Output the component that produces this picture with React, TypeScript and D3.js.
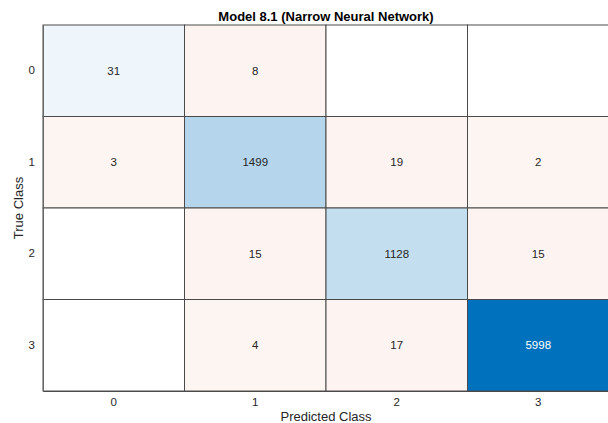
import React, { useEffect, useRef } from 'react';
import * as d3 from 'd3';

const CLASSES = ['0', '1', '2', '3'];

// rows = true class, columns = predicted class
const MATRIX: number[][] = [
  [31, 8, 0, 0],
  [3, 1499, 19, 2],
  [0, 15, 1128, 15],
  [0, 4, 17, 5998],
];

const TITLE = 'Model 8.1 (Narrow Neural Network)';
const X_LABEL = 'Predicted Class';
const Y_LABEL = 'True Class';

const DIAG_COLOR = '#0072bd';
const OFF_COLOR = '#d95319';

const W = 608;
const H = 423;

const App: React.FC = () => {
  const svgRef = useRef<SVGSVGElement>(null);

  useEffect(() => {
    document.body.style.margin = '0';
    if (!svgRef.current) return;
    const svg = d3.select(svgRef.current);
    svg.selectAll('*').remove();

    const margin = { top: 25, right: -1, bottom: 32, left: 43 };
    const x = d3.scaleBand().domain(CLASSES).range([margin.left, W - margin.right]);
    const y = d3.scaleBand().domain(CLASSES).range([margin.top, H - margin.bottom]);

    const maxV = d3.max(MATRIX.flat()) ?? 1;
    const alpha = (v: number) => 0.06 + 0.94 * (v / maxV);
    const fill = (v: number, diag: boolean) => {
      if (v === 0) return '#ffffff';
      return d3.interpolateRgb('#ffffff', diag ? DIAG_COLOR : OFF_COLOR)(alpha(v));
    };

    const font = 'Liberation Sans, Arial, Helvetica, sans-serif';
    const g = svg.append('g');

    MATRIX.forEach((row, i) => {
      row.forEach((v, j) => {
        g.append('rect')
          .attr('x', x(CLASSES[j])!)
          .attr('y', y(CLASSES[i])!)
          .attr('width', x.bandwidth())
          .attr('height', y.bandwidth())
          .attr('fill', fill(v, i === j))
          .attr('stroke', '#4a4a4a')
          .attr('stroke-width', 1);
        if (v !== 0) {
          g.append('text')
            .attr('x', x(CLASSES[j])! + x.bandwidth() / 2)
            .attr('y', y(CLASSES[i])! + y.bandwidth() / 2)
            .attr('dy', '0.35em')
            .attr('text-anchor', 'middle')
            .attr('font-family', font)
            .attr('font-size', '11.5px')
            .attr('fill', alpha(v) > 0.5 ? '#ffffff' : '#262626')
            .text(String(v));
        }
      });
    });

    const xAxis = svg
      .append('g')
      .attr('transform', `translate(0,${H - margin.bottom})`)
      .call(d3.axisBottom(x).tickSize(0).tickPadding(7));
    xAxis.select('.domain').attr('stroke', '#4a4a4a');
    xAxis.selectAll('text').attr('font-family', font).attr('font-size', '11.5px').attr('fill', '#262626');

    const yAxis = svg
      .append('g')
      .attr('transform', `translate(${margin.left},0)`)
      .call(d3.axisLeft(y).tickSize(0).tickPadding(8));
    yAxis.select('.domain').attr('stroke', '#666');
    yAxis.selectAll('text').attr('font-family', font).attr('font-size', '11.5px').attr('fill', '#262626');

    const cx = (margin.left + W - margin.right) / 2;

    svg
      .append('text')
      .attr('x', cx)
      .attr('y', 21)
      .attr('text-anchor', 'middle')
      .attr('font-family', font)
      .attr('font-weight', 'bold')
      .attr('font-size', '13px')
      .attr('fill', '#000')
      .text(TITLE);

    svg
      .append('text')
      .attr('x', cx)
      .attr('y', 421)
      .attr('text-anchor', 'middle')
      .attr('font-family', font)
      .attr('font-size', '13px')
      .attr('fill', '#262626')
      .text(X_LABEL);

    svg
      .append('text')
      .attr('transform', `translate(23,${(margin.top + H - margin.bottom) / 2}) rotate(-90)`)
      .attr('text-anchor', 'middle')
      .attr('font-family', font)
      .attr('font-size', '13px')
      .attr('fill', '#262626')
      .text(Y_LABEL);
  }, []);

  return <svg ref={svgRef} width={W} height={H} style={{ display: 'block', background: '#fff' }} />;
};

export default App;
